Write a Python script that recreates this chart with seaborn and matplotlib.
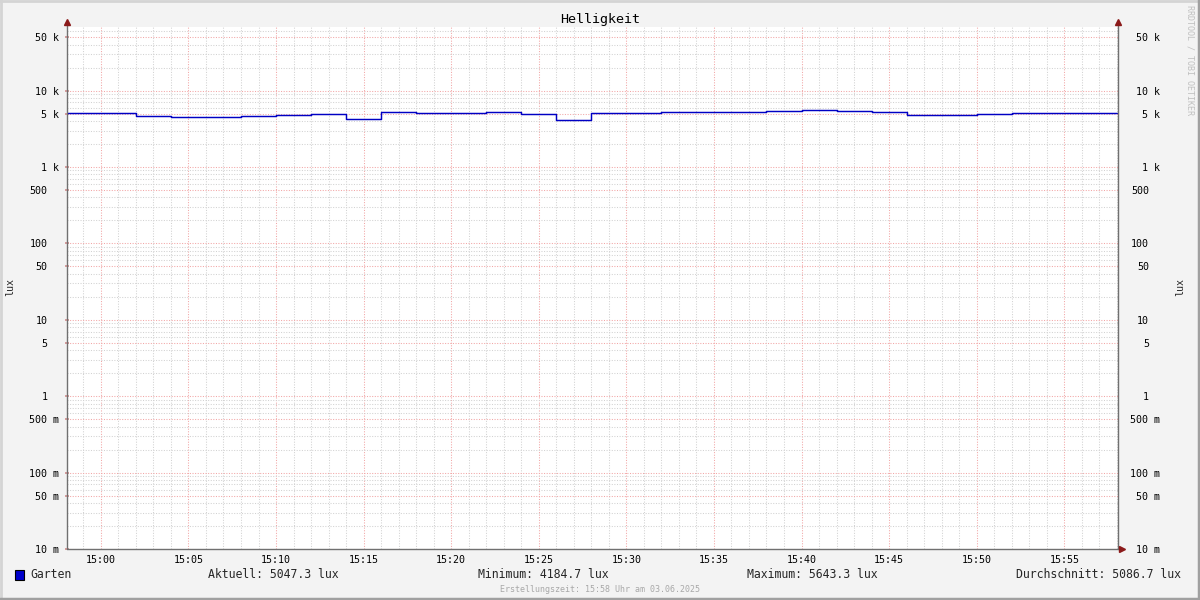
import numpy as np
import pandas as pd
import matplotlib
matplotlib.use("Agg")
import matplotlib.pyplot as plt
import matplotlib.dates as mdates
import seaborn as sns
from matplotlib.lines import Line2D
from matplotlib.patches import Rectangle

# ---------------- data ----------------
title = "Helligkeit"
series_name = "Garten"
unit = "lux"
day = "2025-06-03"
start_time = "14:58:00"
step_minutes = 2
values = [5050, 5050, 4710, 4530, 4530, 4710, 4810, 5000, 4300, 5310,
          5100, 5100, 5320, 5000, 4185, 5100, 5100, 5300, 5300, 5300,
          5400, 5643, 5450, 5300, 4800, 4800, 5000, 5100, 5100, 5047]
stat_labels = ["Aktuell", "Minimum", "Maximum", "Durchschnitt"]
stat_values = [5047.3, 4184.7, 5643.3, 5086.7]
ytick_values = [0.01, 0.05, 0.1, 0.5, 1, 5, 10, 50, 100, 500,
                1000, 5000, 10000, 50000]
ytick_labels = ["10 m", "50 m", "100 m", "500 m", "1", "5", "10",
                "50", "100", "500", "1 k", "5 k", "10 k", "50 k"]
xtick_labels = ["15:00", "15:05", "15:10", "15:15", "15:20", "15:25",
                "15:30", "15:35", "15:40", "15:45", "15:50", "15:55"]
x_range = ["14:58:04", "15:58:04"]
y_range = [0.01, 68000]
footer = "Erstellungszeit: 15:58 Uhr am 03.06.2025"
watermark = "RRDTOOL / TOBI OETIKER"

# ---------------- build frame ----------------
times = pd.date_range(f"{day} {start_time}", periods=len(values) + 1,
                      freq=f"{step_minutes}min")
df = pd.DataFrame({"time": times, "value": values + [values[-1]]})

# ---------------- style ----------------
sns.set_theme(style="white")
plt.rcParams["font.family"] = ["DejaVu Sans Mono", "DejaVu Sans"]
FS_TICK = 7.2
BG = "#f3f3f3"
LINE = "#0000c4"
AXC = "#707070"
ARROW = "#8b1a1a"
PX = 72 / 100  # points per pixel

W, H = 1200, 600
fig = plt.figure(figsize=(12, 6), dpi=100, facecolor=BG)
L, R, T, B = 67, 1118, 27, 549
ax = fig.add_axes([L / W, 1 - B / H, (R - L) / W, (B - T) / H])
ax.set_facecolor("white")

sns.lineplot(data=df, x="time", y="value", ax=ax, drawstyle="steps-post",
             color=LINE, lw=1.05, legend=False)

ax.set_yscale("log")
ax.set_ylim(*y_range)
ax.set_xlim(pd.Timestamp(f"{day} {x_range[0]}"), pd.Timestamp(f"{day} {x_range[1]}"))

# y ticks
ax.set_yticks(ytick_values)
ax.set_yticklabels(ytick_labels)
minor = [m * 10.0 ** e for e in range(-2, 5) for m in (2, 3, 4, 6, 7, 8, 9)]
minor = [v for v in minor if v < y_range[1]]
ax.set_yticks(minor, minor=True)
ax.yaxis.set_minor_formatter(matplotlib.ticker.NullFormatter())

# x ticks
xt = [pd.Timestamp(f"{day} {t}") for t in xtick_labels]
ax.set_xticks(xt)
ax.set_xticklabels(xtick_labels)
ax.xaxis.set_minor_locator(mdates.MinuteLocator())

ax.set_xlabel("")
ax.set_ylabel("")

ax.tick_params(axis="y", which="major", length=3, direction="inout",
               color="#d09090", labelsize=FS_TICK, labelcolor="black")
ax.tick_params(axis="y", which="minor", length=0)
ax.tick_params(axis="x", which="both", length=0, labelsize=FS_TICK, pad=4,
               labelcolor="black")

ax.grid(which="minor", color="#d2d2d2", lw=0.75, ls=(0, (1, 1.5)))
ax.grid(which="major", color="#f2a6a6", lw=0.75, ls=(0, (1, 1.5)))
ax.set_axisbelow(True)

for s in ax.spines.values():
    s.set_visible(False)

# right axis labels
ax2 = ax.twinx()
ax2.set_yscale("log")
ax2.set_ylim(*y_range)
ax2.set_yticks(ytick_values)
ax2.set_yticklabels(ytick_labels)
ax2.set_yticks([], minor=True)
ax2.tick_params(axis="y", which="major", length=0, labelsize=FS_TICK,
                labelcolor="black")
for s in ax2.spines.values():
    s.set_visible(False)
ax2.grid(False)

# per-tick padding: labels with unit end 7 px from axis, bare numbers two
# character cells further out (RRDtool pads a blank unit)
for tick, lbl in zip(ax.yaxis.get_major_ticks(), ytick_labels):
    has_unit = " " in lbl
    tick.set_pad((5.5 if has_unit else 17.5) * PX)
for tick, lbl in zip(ax2.yaxis.get_major_ticks(), ytick_labels):
    has_unit = " " in lbl
    tick.set_pad((42 if has_unit else 31) * PX)
    tick.label2.set_horizontalalignment("right")

# axis lines with arrows
ext = 5 / (B - T)
ax.plot([0, 0], [0, 1 + ext], transform=ax.transAxes, color=AXC, lw=1,
        clip_on=False, zorder=5)
ax.plot([1, 1], [0, 1 + ext], transform=ax.transAxes, color=AXC, lw=1,
        clip_on=False, zorder=5)
ax.plot([0, 1 + 3 / (R - L)], [0, 0], transform=ax.transAxes, color=AXC,
        lw=1, clip_on=False, zorder=5)
for (mx, my, mk) in [(0, 1 + ext, "^"), (1, 1 + ext, "^"),
                     (1 + 4 / (R - L), 0, ">")]:
    ax.plot([mx], [my], marker=mk, ms=4, color=ARROW, mec=ARROW,
            transform=ax.transAxes, clip_on=False, zorder=6)

# texts
fig.text(0.5, 1 - 19 / H, title, ha="center", va="center", fontsize=9.6,
         color="black")
fig.text(10 / W, 1 - 287 / H, unit, rotation=90, ha="center", va="center",
         fontsize=FS_TICK)
fig.text(1180 / W, 1 - 287 / H, unit, rotation=90, ha="center", va="center",
         fontsize=FS_TICK)

ly = 1 - 575 / H
fig.patches.append(Rectangle((15 / W, 1 - 580 / H), 9 / W, 10 / H,
                             transform=fig.transFigure, facecolor="#0000cc",
                             edgecolor="black", lw=0.8))
fig.text(30 / W, ly, series_name, ha="left", va="center", fontsize=8.3)
stat_x = [208, 478, 747, 1016]
for lbl, val, sx in zip(stat_labels, stat_values, stat_x):
    fig.text(sx / W, ly, f"{lbl}: {val:.1f} {unit}", ha="left", va="center",
             fontsize=8.3)

fig.text(0.5, 1 - 589 / H, footer, ha="center", va="center", fontsize=6,
         color="#a8a8a8")
fig.text(1190 / W, 1 - 5 / H, watermark, rotation=270, ha="center", va="top",
         fontsize=6, color="#c0c0c0")

# frame border
fig.lines.append(Line2D([0, 1], [1 - 1 / H, 1 - 1 / H], transform=fig.transFigure,
                        color="#d4d4d4", lw=2))
fig.lines.append(Line2D([1 / W, 1 / W], [0, 1], transform=fig.transFigure,
                        color="#d4d4d4", lw=2))
fig.lines.append(Line2D([0, 1], [1 / H, 1 / H], transform=fig.transFigure,
                        color="#a0a0a0", lw=2.5))
fig.lines.append(Line2D([1 - 1 / W, 1 - 1 / W], [0, 1], transform=fig.transFigure,
                        color="#a0a0a0", lw=2.5))

fig.savefig("out.png", dpi=100, facecolor=BG)
